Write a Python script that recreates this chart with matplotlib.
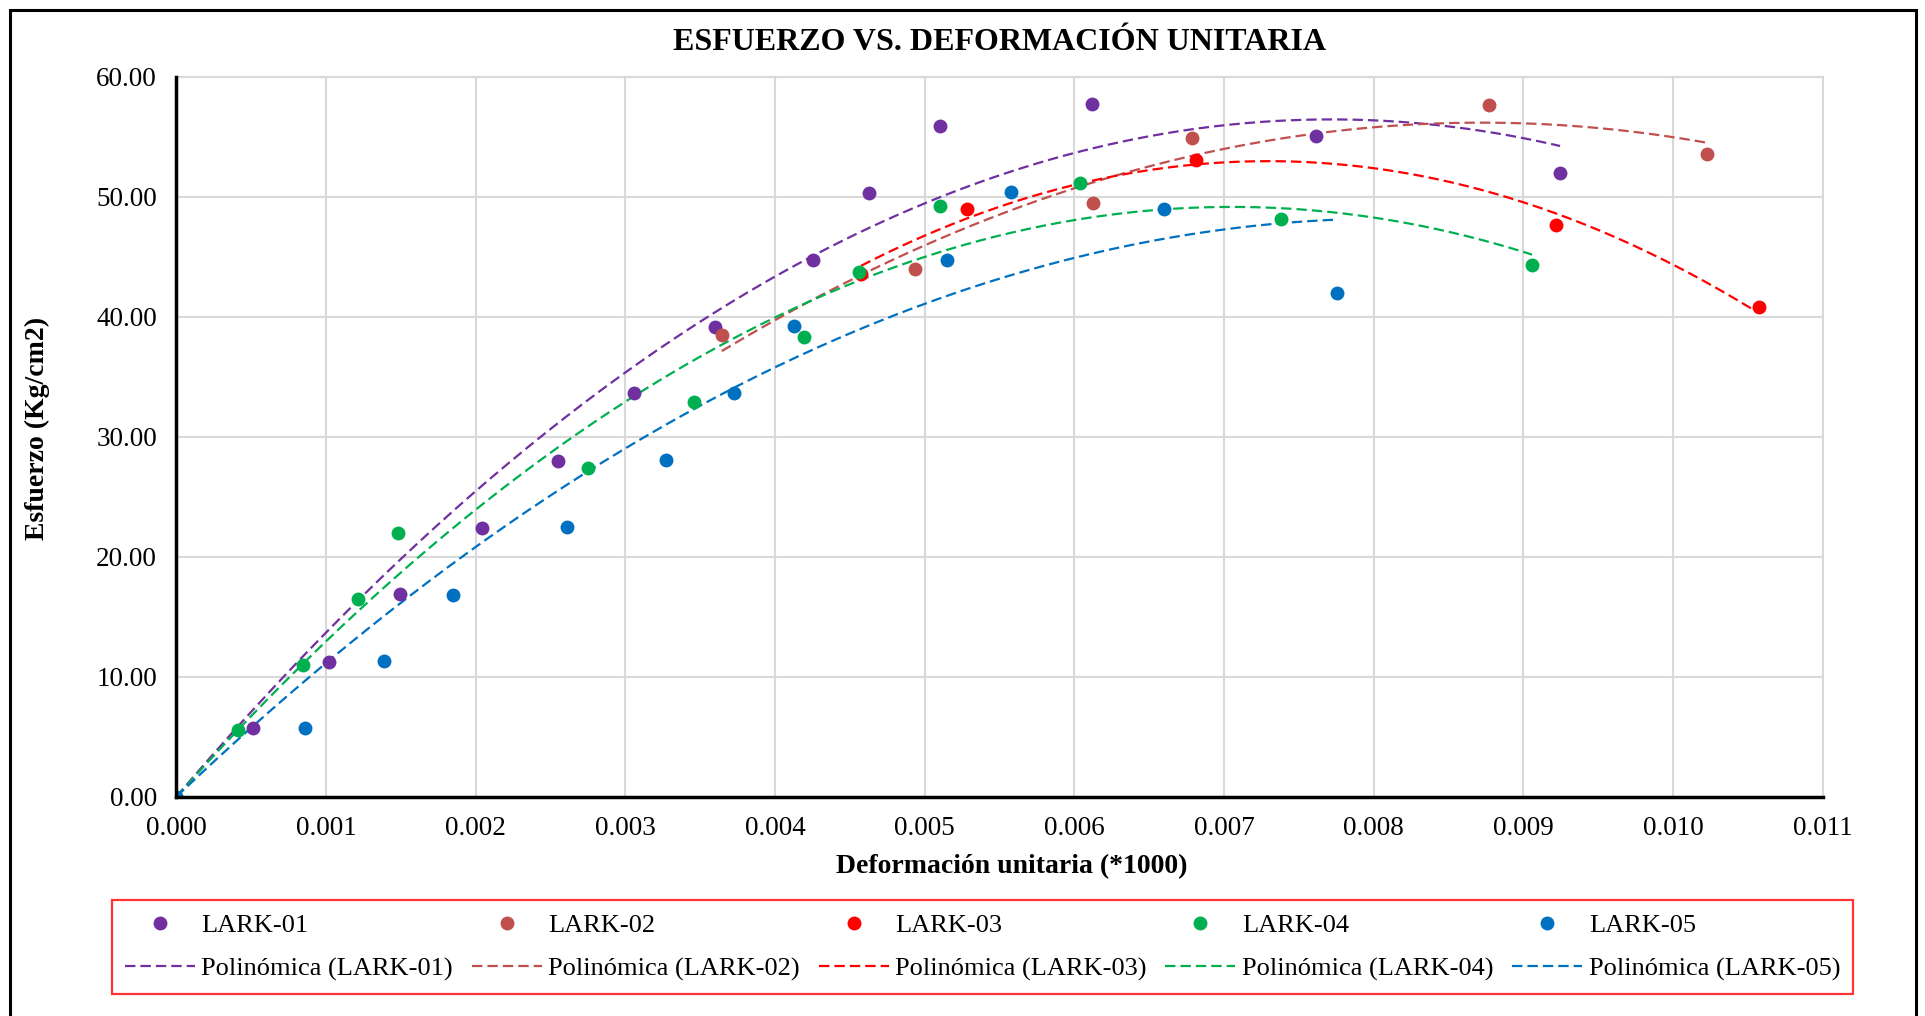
import numpy as np
from matplotlib import pyplot as plt
from matplotlib.patches import Rectangle
from matplotlib.ticker import FormatStrFormatter, MultipleLocator

plt.rcParams['font.family'] = ['Liberation Serif', 'DejaVu Serif']
plt.rcParams['lines.scale_dashes'] = False

# datos
names = ["LARK-01", "LARK-02", "LARK-03", "LARK-04", "LARK-05"]
colors = ["#7030A0", "#C0504D", "#FF0000", "#00B050", "#0070C0"]
# tendencia con interseccion fija en 0 (True) o libre (False)
origen = [True, True, False, True, True]

x1 = [0.0, 0.000513, 0.001022, 0.001495, 0.002040, 0.002553, 0.003060, 0.003601,
      0.004252, 0.004626, 0.005101, 0.006120, 0.007615, 0.009245]
y1 = [0.0, 5.70, 11.25, 16.87, 22.42, 28.00, 33.62, 39.17,
      44.75, 50.31, 55.92, 57.75, 55.06, 52.00]

x2 = [0.003644, 0.004936, 0.006125, 0.006786, 0.008773, 0.010227]
y2 = [38.45, 43.98, 49.45, 54.92, 57.67, 53.56]

x3 = [0.004575, 0.005285, 0.006811, 0.009216, 0.010573]
y3 = [43.56, 48.95, 53.08, 47.64, 40.81]

x4 = [0.0, 0.000410, 0.000844, 0.001212, 0.001479, 0.002753, 0.003459, 0.004196,
      0.004563, 0.005101, 0.006040, 0.007379, 0.009058]
y4 = [0.0, 5.56, 11.00, 16.47, 21.95, 27.42, 32.87, 38.31,
      43.72, 49.22, 51.17, 48.17, 44.33]

x5 = [0.0, 0.000860, 0.001388, 0.001851, 0.002608, 0.003270, 0.003728, 0.004125,
      0.005147, 0.005575, 0.006599, 0.007753]
y5 = [0.0, 5.70, 11.31, 16.83, 22.45, 28.03, 33.62, 39.20,
      44.72, 50.42, 48.97, 41.98]

xs = [x1, x2, x3, x4, x5]
ys = [y1, y2, y3, y4, y5]

fig = plt.figure(figsize=(19.25, 10.16), dpi=100)
ax = fig.add_axes([0.0916, 0.2158, 0.8553, 0.7087])

handles = []
for i in range(5):
    x = np.array(xs[i])
    y = np.array(ys[i])
    sc, = ax.plot(x, y, 'o', color=colors[i], markersize=10, markeredgewidth=0,
                  label=names[i], zorder=3)
    # tendencia polinomica de orden 2
    x_fit = np.linspace(x.min(), x.max(), 300)
    if origen[i]:
        A = np.column_stack((x, x ** 2))
        a, b = np.linalg.lstsq(A, y, rcond=None)[0]
        y_fit = a * x_fit + b * x_fit ** 2
    else:
        y_fit = np.polyval(np.polyfit(x, y, 2), x_fit)
    tl, = ax.plot(x_fit, y_fit, color=colors[i], lw=1.6,
                  dashes=(7.5, 3.6), label="Polinómica (" + names[i] + ")", zorder=2)
    handles += [sc, tl]

ax.set_xlim(0, 0.011)
ax.set_ylim(0, 60)
ax.xaxis.set_major_locator(MultipleLocator(0.001))
ax.yaxis.set_major_locator(MultipleLocator(10))
ax.xaxis.set_major_formatter(FormatStrFormatter('%.3f'))
ax.yaxis.set_major_formatter(FormatStrFormatter('%.2f'))
ax.tick_params(length=0, labelsize=19.5)
ax.tick_params(axis='x', pad=14)
ax.tick_params(axis='y', pad=14)
ax.grid(color='#D9D9D9', lw=1.5)
ax.set_axisbelow(True)
for s in ['top', 'right']:
    ax.spines[s].set_color('#D9D9D9')
    ax.spines[s].set_linewidth(1.5)
for s in ['left', 'bottom']:
    ax.spines[s].set_color('black')
    ax.spines[s].set_linewidth(2.5)
    ax.spines[s].set_zorder(4)

fig.text(0.5195, 0.9585, "ESFUERZO VS. DEFORMACIÓN UNITARIA", ha='center', va='center',
         fontsize=23, fontweight='bold')
fig.text(0.5258, 0.1466, "Deformación unitaria (*1000)", ha='center', va='center',
         fontsize=20, fontweight='bold')
fig.text(0.0195, 0.5787, "Esfuerzo (Kg/cm2)", ha='center', va='center', rotation=90,
         fontsize=20, fontweight='bold')

leg = fig.legend(handles=handles, ncol=5, mode='expand', loc='lower left',
                 bbox_to_anchor=(111.5 / 1925, 1 - 994 / 1016, 1742 / 1925, 94 / 1016),
                 fontsize=19, frameon=True, fancybox=False, handlelength=2.65,
                 handletextpad=0.25, borderaxespad=0, borderpad=0.5, labelspacing=0.75,
                 columnspacing=0.8, numpoints=1)
leg.get_frame().set_edgecolor('#FF0000')
leg.get_frame().set_linewidth(1.6)

# marco exterior
fig.patches.append(Rectangle((10 / 1925, -0.02), 1906 / 1925, 1.02 - 10 / 1016,
                             transform=fig.transFigure, fill=False, ec='black', lw=2.2))

fig.savefig("out.png", dpi=100)
